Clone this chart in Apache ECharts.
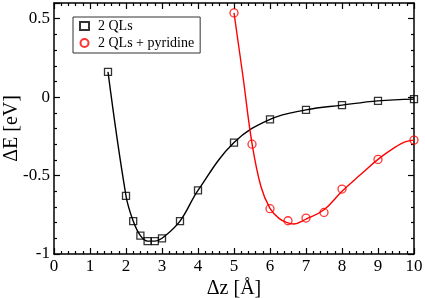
<!DOCTYPE html>
<html><head><meta charset="utf-8">
<script src="https://cdn.jsdelivr.net/npm/echarts@6/dist/echarts.min.js"></script>
<style>html,body{margin:0;padding:0;background:#fff}#c{width:425px;height:298px}</style>
</head><body><div id="c"></div>
<script>
// 2 QLs (squares)
const qlX = [1.5, 2.0, 2.2, 2.4, 2.6, 2.8, 3.0, 3.5, 4.0, 5.0, 6.0, 7.0, 8.0, 9.0, 10.0];
const qlY = [0.161, -0.629, -0.790, -0.883, -0.918, -0.918, -0.900, -0.790, -0.594, -0.290, -0.142, -0.081, -0.051, -0.024, -0.013];
// 2 QLs + pyridine (circles)
const pyX = [5.0, 5.5, 6.0, 6.5, 7.0, 7.5, 8.0, 9.0, 10.0];
const pyY = [0.537, -0.300, -0.711, -0.788, -0.771, -0.735, -0.586, -0.397, -0.274];
// fitted curve for pyridine
const pyFitX = [5.0, 5.25, 5.5, 5.75, 6.0, 6.25, 6.5, 6.65, 7.0, 7.5, 8.0, 8.5, 9.0, 9.5, 9.75, 10.0];
const pyFitY = [0.537, 0.13, -0.295, -0.571, -0.709, -0.773, -0.802, -0.809, -0.777, -0.718, -0.600, -0.497, -0.397, -0.316, -0.285, -0.274];
const xTicks = [0,1,2,3,4,5,6,7,8,9,10];
const yTicks = [-1, -0.5, 0, 0.5];

const zip = (a, b) => a.map((v, i) => [v, b[i]]);
const font = 'Liberation Serif';
function xAx(pos, show) {
  return {
    type: 'value', position: pos, min: 0, max: 10, interval: 1,
    axisLine: { show: true, onZero: false, lineStyle: { color: '#000', width: 1.5 } },
    axisTick: { show: true, inside: true, length: 6, lineStyle: { color: '#000', width: 1.2 } },
    minorTick: { show: true, splitNumber: 5, length: 3, lineStyle: { color: '#000', width: 1.2 } },
    splitLine: { show: false },
    axisLabel: { show: show, margin: 4, fontFamily: font, fontSize: 17, color: '#000' },
    name: show ? 'Δz [Å]' : '', nameLocation: 'middle', nameGap: 25, nameMoveOverlap: false,
    nameTextStyle: { fontFamily: font, fontSize: 20, color: '#000' }
  };
}
function yAx(pos, show) {
  return {
    type: 'value', position: pos, min: -1, max: 0.6, interval: 0.5,
    axisLine: { show: true, onZero: false, lineStyle: { color: '#000', width: 1.5 } },
    axisTick: { show: true, inside: true, length: 6, lineStyle: { color: '#000', width: 1.2 } },
    minorTick: { show: true, splitNumber: 5, length: 3, lineStyle: { color: '#000', width: 1.2 } },
    splitLine: { show: false },
    axisLabel: { show: show, margin: 4, fontFamily: font, fontSize: 17, color: '#000',
      formatter: v => yTicks.some(t => Math.abs(t - v) < 1e-9) ? String(v) : '' },
    name: show ? 'ΔE [eV]' : '', nameLocation: 'middle', nameGap: 32, nameRotate: 90, nameMoveOverlap: false,
    nameTextStyle: { fontFamily: font, fontSize: 20, color: '#000' }
  };
}
const chart = echarts.init(document.getElementById('c'), null, { renderer: 'canvas' });
chart.setOption({
  animation: false,
  backgroundColor: '#fff',
  grid: { left: 54, right: 11, top: 3, bottom: 44, containLabel: false, outerBoundsMode: 'none' },
  xAxis: [xAx('bottom', true), xAx('top', false)],
  yAxis: [yAx('left', true), yAx('right', false)],
  legend: {
    left: 73, top: 17, orient: 'vertical',
    data: ['2 QLs', '2 QLs + pyridine'],
    borderColor: '#333', borderWidth: 1, borderRadius: 0,
    padding: [2, 6, 3, 6], itemGap: 3, itemWidth: 9, itemHeight: 8,
    textStyle: { fontFamily: font, fontSize: 14, color: '#000', padding: [0, 0, 0, 4] }
  },
  series: [
    { type: 'line', data: zip(qlX, qlY), smooth: 0.4, showSymbol: false, symbol: 'none',
      lineStyle: { color: '#000', width: 1.4 }, silent: true, z: 2 },
    { type: 'line', data: zip(pyFitX, pyFitY), smooth: 0.4, showSymbol: false, symbol: 'none',
      lineStyle: { color: '#ff0000', width: 1.4 }, silent: true, z: 2 },
    { name: '2 QLs', type: 'scatter', data: zip(qlX, qlY), symbol: 'rect', symbolSize: 7,
      itemStyle: { color: 'rgba(0,0,0,0)', borderColor: '#000', borderWidth: 1.3 }, z: 3 },
    { name: '2 QLs + pyridine', type: 'scatter', data: zip(pyX, pyY), symbol: 'circle', symbolSize: 8,
      itemStyle: { color: 'rgba(0,0,0,0)', borderColor: '#ff0000', borderWidth: 1.3 }, z: 3 }
  ]
});
</script></body></html>
